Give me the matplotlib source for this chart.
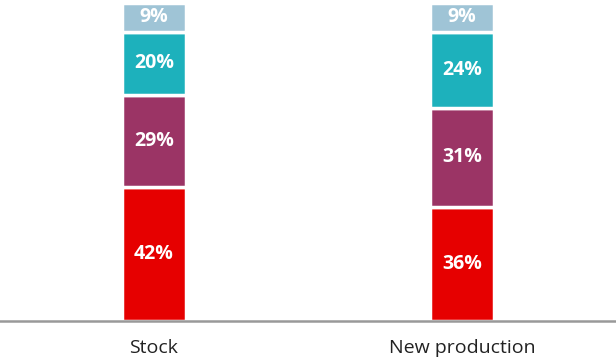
import matplotlib.pyplot as plt

categories = ['Stock', 'New production']
seg_red = [42, 36]
seg_purple = [29, 31]
seg_teal = [20, 24]
seg_light = [9, 9]

series = [seg_red, seg_purple, seg_teal, seg_light]
colors = ['#e60000', '#9b3465', '#1db1bc', '#9fc4d6']

plt.rcParams['font.family'] = ['Open Sans', 'DejaVu Sans']

fig = plt.figure(figsize=(6.16, 3.6), dpi=100)
ax = fig.add_axes([0, 39 / 360, 1, 318 / 360])

x = list(range(len(categories)))
bottom = [0] * len(categories)
for vals, col in zip(series, colors):
    ax.bar(x, vals, width=0.208, bottom=bottom, color=col,
           edgecolor='white', linewidth=2.5)
    for i, v in enumerate(vals):
        ax.text(x[i], bottom[i] + v / 2, f'{v}%', ha='center', va='center',
                color='white', fontsize=14, fontweight='bold')
    bottom = [b + v for b, v in zip(bottom, vals)]

ax.set_xlim(-0.5, 1.5)
ax.set_ylim(0, 100)
ax.set_xticks(x)
ax.set_xticklabels(categories, fontsize=14, color='#222222')
ax.tick_params(axis='x', length=0, pad=13)
ax.set_yticks([])
for s in ['top', 'left', 'right']:
    ax.spines[s].set_visible(False)
ax.spines['bottom'].set_color('#999999')
ax.spines['bottom'].set_linewidth(1.8)

fig.savefig('out.png', dpi=100)
